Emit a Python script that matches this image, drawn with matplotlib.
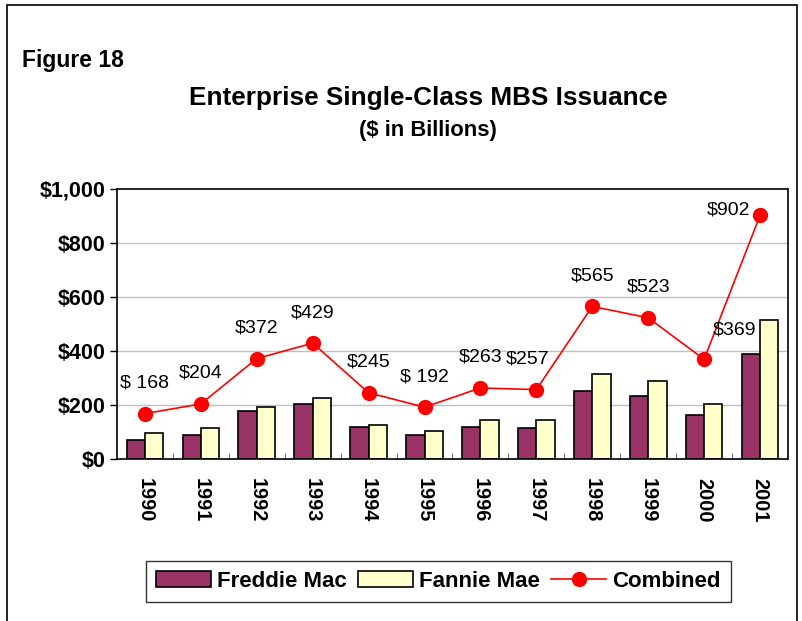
#!/usr/bin/env python3
"""
Enterprise Single-Class MBS Issuance (Figure 18)
Clustered bars for Freddie Mac / Fannie Mae with combined line overlay
"""

import numpy as np
import matplotlib
matplotlib.use('Agg')
import matplotlib.pyplot as plt
from matplotlib.patches import Rectangle

plt.rcParams['font.family'] = ['Liberation Sans', 'DejaVu Sans']

# Data ($ in billions)
years = ['1990', '1991', '1992', '1993', '1994', '1995',
         '1996', '1997', '1998', '1999', '2000', '2001']
freddie = [72, 90, 179, 205, 119, 87, 120, 114, 250, 233, 164, 387]
fannie = [96, 114, 193, 224, 126, 105, 143, 143, 315, 290, 205, 515]
combined = [168, 204, 372, 429, 245, 192, 263, 257, 565, 523, 369, 902]
combined_labels = ['$ 168', '$204', '$372', '$429', '$245', '$ 192',
                   '$263', '$257', '$565', '$523', '$369', '$902']
y_ticks = [0, 200, 400, 600, 800, 1000]
y_tick_labels = ['$0', '$200', '$400', '$600', '$800', '$1,000']

# Colours
FREDDIE_COLOR = '#993366'
FANNIE_COLOR = '#FFFFCC'
LINE_COLOR = '#FF0000'

fig = plt.figure(figsize=(8.02, 6.21), dpi=100)
ax = fig.add_axes([0.1459, 0.2609, 0.8366, 0.4348])

x = np.arange(len(years))
bar_w = 0.328

h_freddie = ax.bar(x - bar_w / 2, freddie, width=bar_w, color=FREDDIE_COLOR,
                   edgecolor='black', linewidth=1.2, label='Freddie Mac', zorder=2)
h_fannie = ax.bar(x + bar_w / 2, fannie, width=bar_w, color=FANNIE_COLOR,
                  edgecolor='black', linewidth=1.2, label='Fannie Mae', zorder=2)
h_comb, = ax.plot(x, combined, color=LINE_COLOR, linewidth=1.2, marker='o',
                  markersize=10, markerfacecolor=LINE_COLOR,
                  markeredgecolor=LINE_COLOR, label='Combined', zorder=3)

# Data labels for combined line (offsets in points)
offsets = {7: (-6, 22), 10: (22, 21), 11: (-23, 4)}
for i, (val, lbl) in enumerate(zip(combined, combined_labels)):
    dx, dy = offsets.get(i, (0, 22))
    ax.annotate(lbl, xy=(x[i], val), xytext=(dx, dy), textcoords='offset points',
                ha='center', va='center', fontsize=14, color='black', zorder=4)

# Axes styling
ax.set_xlim(-0.5, len(years) - 0.5)
ax.set_ylim(0, 1000)
ax.set_yticks(y_ticks)
ax.set_yticklabels(y_tick_labels, fontsize=15.5, fontweight='bold')
ax.set_xticks(x)
ax.set_xticklabels(years, rotation=270, fontsize=14.3, fontweight='bold')
ax.tick_params(axis='x', length=0, pad=14)
ax.set_xticks(np.arange(0.5, len(years) - 0.5, 1.0), minor=True)
ax.tick_params(axis='x', which='minor', length=4, direction='in', color='#555555')
ax.tick_params(axis='y', length=5, direction='out', width=1, pad=3)

for y in y_ticks[1:-1]:
    ax.axhline(y, color='#C0C0C0', linewidth=1, zorder=1)

for spine in ax.spines.values():
    spine.set_color('black')
    spine.set_linewidth(1.2)

# Titles
fig.text(0.027, 0.903, 'Figure 18', fontsize=16.5, fontweight='bold',
         ha='left', va='center')
fig.text(0.534, 0.842, 'Enterprise Single-Class MBS Issuance', fontsize=18.8,
         fontweight='bold', ha='center', va='center')
fig.text(0.534, 0.79, '($ in Billions)', fontsize=15.8, fontweight='bold',
         ha='center', va='center')

# Legend
leg = fig.legend(handles=[h_freddie, h_fannie, h_comb],
                 loc='center', bbox_to_anchor=(0.547, 0.064), ncol=3,
                 prop={'size': 16, 'weight': 'bold'}, frameon=True,
                 fancybox=False, shadow=False, handlelength=2.45,
                 handleheight=0.75, columnspacing=0.5, handletextpad=0.3,
                 borderpad=0.45, borderaxespad=0)
leg.get_frame().set_edgecolor('black')
leg.get_frame().set_linewidth(1)

# Outer chart border
fig.patches.append(Rectangle((0.009, -0.05), 0.985, 1.042, transform=fig.transFigure,
                             fill=False, edgecolor='black', linewidth=1.2))

fig.savefig('out.png', dpi=100)
